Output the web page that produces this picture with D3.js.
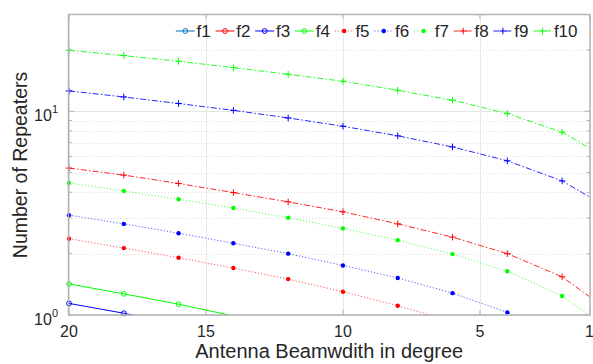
<!DOCTYPE html>
<html>
<head>
<meta charset="utf-8">
<script src="https://cdn.jsdelivr.net/npm/d3@7"></script>
<style>
  html, body { margin: 0; padding: 0; background: #fff; }
  svg { display: block; }
  text { font-family: "Liberation Sans", Arial, Helvetica, sans-serif; fill: #262626; }
</style>
</head>
<body>
<svg id="chart" width="593" height="364"></svg>
<script>
// ---- data ----
const beamwidth = [20, 18, 16, 14, 12, 10, 8, 6, 4, 2, 1];
const f1  = [0.62, 0.58, 0.54, 0.50, 0.46, 0.42, 0.38, 0.34, 0.29, 0.24, 0.20];
const f2  = [0.88, 0.82, 0.77, 0.71, 0.66, 0.60, 0.55, 0.49, 0.42, 0.35, 0.30];
const f3  = [1.14, 1.02, 0.90, 0.80, 0.71, 0.63, 0.55, 0.47, 0.40, 0.32, 0.27];
const f4  = [1.42, 1.27, 1.13, 0.99, 0.87, 0.76, 0.66, 0.56, 0.47, 0.37, 0.31];
const f5  = [2.37, 2.13, 1.91, 1.70, 1.50, 1.30, 1.11, 0.93, 0.74, 0.54, 0.45];
const f6  = [3.09, 2.80, 2.52, 2.25, 2.00, 1.75, 1.52, 1.28, 1.03, 0.77, 0.62];
const f7  = [4.45, 4.06, 3.70, 3.35, 3.00, 2.66, 2.33, 1.99, 1.64, 1.24, 0.99];
const f8  = [5.26, 4.86, 4.42, 3.99, 3.59, 3.21, 2.80, 2.41, 2.00, 1.54, 1.23];
const f9  = [12.58, 11.75, 10.91, 10.10, 9.27, 8.44, 7.57, 6.68, 5.71, 4.55, 3.80];
const f10 = [19.90, 18.75, 17.58, 16.37, 15.18, 14.03, 12.67, 11.32, 9.75, 7.89, 6.60];
const seriesNames = ["f1", "f2", "f3", "f4", "f5", "f6", "f7", "f8", "f9", "f10"];
const seriesValues = [f1, f2, f3, f4, f5, f6, f7, f8, f9, f10];
const xTicks = [20, 15, 10, 5, 1];
const yMajorTicks = [1, 10];
const yMinorTicks = [2, 3, 4, 5, 6, 7, 8, 9, 20];
const yTickExponents = ["0", "1"];
const xLabel = "Antenna Beamwdith in degree";
const yLabel = "Number of Repeaters";

// ---- styles ----
const colors = ["#0072BD", "#ff0000", "#0000ff", "#00ff00", "#ff0000", "#0000ff", "#00ff00", "#ff0000", "#0000ff", "#00ff00"];
const dashes = [null, null, null, null, "1.2,2", "1.2,2", "1.2,2", "6,2.2,1.5,2.2", "6,2.2,1.5,2.2", "6,2.2,1.5,2.2"];
const lineOpacity = [1, 1, 1, 1, 0.65, 0.65, 0.65, 0.85, 0.85, 0.85];
const markers = ["circle", "circle", "circle", "circle", "dot", "dot", "dot", "plus", "plus", "plus"];

const W = 593, H = 364;
const margin = { left: 69, right: 3.5, top: 14, bottom: 49 };
const x0 = margin.left, x1 = W - margin.right, y0 = margin.top, y1 = H - margin.bottom;

const x = d3.scaleLinear().domain([20, 1]).range([x0, x1]);
const y = d3.scaleLog().domain([1, 30]).range([y1, y0]);

const svg = d3.select("#chart");

svg.append("defs").append("clipPath").attr("id", "clip")
  .append("rect").attr("x", x0).attr("y", y0).attr("width", x1 - x0).attr("height", y1 - y0);

// grid
const grid = svg.append("g");
grid.selectAll(".ymin").data(yMinorTicks).join("line")
  .attr("x1", x0).attr("x2", x1)
  .attr("y1", d => Math.round(y(d)) + 0.5).attr("y2", d => Math.round(y(d)) + 0.5)
  .attr("stroke", "#dcdcdc").attr("stroke-width", 1).attr("stroke-dasharray", "1,2");
grid.selectAll(".ymaj").data(yMajorTicks).join("line")
  .attr("x1", x0).attr("x2", x1)
  .attr("y1", d => Math.round(y(d)) + 0.5).attr("y2", d => Math.round(y(d)) + 0.5)
  .attr("stroke", "#e3e3e3").attr("stroke-width", 1);
grid.selectAll(".xmaj").data(xTicks).join("line")
  .attr("x1", d => Math.round(x(d)) + 0.5).attr("x2", d => Math.round(x(d)) + 0.5)
  .attr("y1", y0).attr("y2", y1)
  .attr("stroke", "#e8e8e8").attr("stroke-width", 1);

// lines
const plotG = svg.append("g");
const lineGen = d3.line().x((d, i) => x(beamwidth[i])).y(d => y(Math.max(d, 0.01)));
seriesValues.forEach((vals, k) => {
  plotG.append("path")
    .attr("d", lineGen(vals))
    .attr("fill", "none")
    .attr("stroke", colors[k])
    .attr("stroke-width", 1)
    .attr("stroke-opacity", lineOpacity[k])
    .attr("stroke-dasharray", dashes[k])
    .attr("clip-path", "url(#clip)");
});

function drawMarker(g, type, cx, cy, color) {
  if (type === "circle") {
    g.append("circle").attr("cx", cx).attr("cy", cy).attr("r", 2.4)
      .attr("fill", "none").attr("stroke", color).attr("stroke-width", 1);
  } else if (type === "dot") {
    g.append("circle").attr("cx", cx).attr("cy", cy).attr("r", 2.2).attr("fill", color);
  } else {
    g.append("path").attr("d", `M${cx - 3.3},${cy}H${cx + 3.3}M${cx},${cy - 3.3}V${cy + 3.3}`)
      .attr("stroke", color).attr("stroke-width", 1);
  }
}

seriesValues.forEach((vals, k) => {
  vals.forEach((v, i) => {
    if (beamwidth[i] % 2 !== 0) return;
    if (v < 1 || v > 30) return;
    drawMarker(plotG, markers[k], x(beamwidth[i]), y(v), colors[k]);
  });
});

// axes box
const axG = svg.append("g");
const axisColor = "#b3b3b3";
axG.append("rect").attr("x", Math.round(x0) - 0.5).attr("y", Math.round(y0) + 0.5)
  .attr("width", Math.round(x1) - Math.round(x0) + 0.5).attr("height", Math.round(y1) - Math.round(y0) - 0.5)
  .attr("fill", "none").attr("stroke", axisColor).attr("stroke-width", 1.5);

// ticks
xTicks.forEach(t => {
  const px = x(t);
  axG.append("line").attr("x1", px).attr("x2", px).attr("y1", y1).attr("y2", y1 - 5).attr("stroke", axisColor);
  axG.append("line").attr("x1", px).attr("x2", px).attr("y1", y0).attr("y2", y0 + 5).attr("stroke", axisColor);
});
yMajorTicks.forEach(t => {
  const py = y(t);
  axG.append("line").attr("x1", x0).attr("x2", x0 + 5).attr("y1", py).attr("y2", py).attr("stroke", axisColor);
  axG.append("line").attr("x1", x1).attr("x2", x1 - 5).attr("y1", py).attr("y2", py).attr("stroke", axisColor);
});
yMinorTicks.forEach(t => {
  const py = y(t);
  axG.append("line").attr("x1", x0).attr("x2", x0 + 3).attr("y1", py).attr("y2", py).attr("stroke", axisColor);
  axG.append("line").attr("x1", x1).attr("x2", x1 - 3).attr("y1", py).attr("y2", py).attr("stroke", axisColor);
});

// tick labels
const xAxisG = svg.append("g");
xAxisG.selectAll("text").data(xTicks).join("text")
  .attr("x", d => x(d)).attr("y", y1 + 22)
  .attr("text-anchor", "middle").attr("font-size", 16)
  .text(d => d);

yMajorTicks.forEach((t, i) => {
  const txt = svg.append("text").attr("x", x0 - 11).attr("y", y(t) + 9.5)
    .attr("text-anchor", "end").attr("font-size", 16);
  txt.append("tspan").text("10");
  txt.append("tspan").attr("font-size", 11).attr("dy", -8).text(yTickExponents[i]);
});

// axis labels
svg.append("text").attr("x", (x0 + x1) / 2).attr("y", 358)
  .attr("text-anchor", "middle").attr("font-size", 20).text(xLabel);
svg.append("text").attr("transform", "translate(27,165) rotate(-90)")
  .attr("text-anchor", "middle").attr("font-size", 19.5).text(yLabel);

// legend
const legG = svg.append("g");
const legCy = 31;
seriesNames.forEach((name, k) => {
  const cx = 185.3 + 39.7 * k;
  legG.append("line").attr("x1", cx - 9.5).attr("x2", cx + 9.5).attr("y1", legCy).attr("y2", legCy)
    .attr("stroke", colors[k]).attr("stroke-width", 1).attr("stroke-opacity", lineOpacity[k])
    .attr("stroke-dasharray", dashes[k]);
  drawMarker(legG, markers[k], cx, legCy, colors[k]);
  legG.append("text").attr("x", cx + 11.3).attr("y", legCy + 6.2)
    .attr("font-size", 17).text(name);
});
</script>
</body>
</html>
